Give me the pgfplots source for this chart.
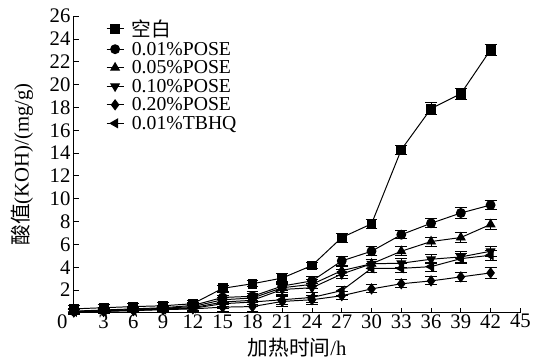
\documentclass[border=0pt]{standalone}
\usepackage{pgfplots}
\usepackage{pgfplotstable}
\pgfplotsset{compat=1.18}
\usepackage{fontspec}
\setmainfont{Liberation Serif}
\newfontfamily\cjk{Noto Sans CJK SC}
\pgfplotstableread{
x   a    ea   b    eb   c    ec   d    ed   f    ef   g    eg
0   0.35 0.3  0.15 0.2  0.12 0.2  0.10 0.2  0.08 0.2  0.10 0.2
3   0.45 0.3  0.25 0.2  0.20 0.2  0.18 0.2  0.12 0.2  0.15 0.2
6   0.55 0.3  0.35 0.2  0.30 0.2  0.25 0.2  0.20 0.2  0.22 0.2
9   0.62 0.3  0.45 0.2  0.40 0.2  0.35 0.2  0.28 0.2  0.30 0.2
12  0.80 0.3  0.65 0.3  0.55 0.3  0.45 0.3  0.35 0.3  0.40 0.3
15  2.15 0.25 1.35 0.4  1.15 0.4  0.95 0.4  0.50 0.4  0.80 0.4
18  2.55 0.25 1.45 0.4  1.30 0.4  1.10 0.4  0.55 0.4  0.95 0.4
21  3.05 0.4  2.35 0.4  2.20 0.4  2.05 0.4  1.00 0.4  1.15 0.4
24  4.15 0.3  2.80 0.4  2.50 0.4  2.20 0.4  1.15 0.4  1.35 0.4
27  6.60 0.4  4.55 0.4  3.70 0.4  3.40 0.4  1.50 0.35 1.95 0.4
30  7.80 0.4  5.40 0.4  4.30 0.4  4.30 0.4  2.10 0.35 3.90 0.4
33  14.30 0.4 6.85 0.35 5.40 0.4  4.35 0.4  2.55 0.35 3.90 0.4
36  17.90 0.5 7.85 0.4  6.25 0.4  4.70 0.4  2.80 0.35 4.05 0.4
39  19.20 0.5 8.75 0.45 6.60 0.45 4.90 0.45 3.15 0.4  4.75 0.45
42  23.05 0.45 9.45 0.4 7.75 0.45 5.40 0.45 3.50 0.45 5.05 0.45
}\data
\begin{document}
\begin{tikzpicture}
\begin{axis}[
  scale only axis,
  width=453pt, height=301pt,
  xmin=0, xmax=45, ymin=0, ymax=26,
  xtick={0,3,...,45}, ytick={2,4,...,26},
  xticklabel={\ifdim\tick pt=0pt\llap{0\kern6.5pt}\else\pgfmathprintnumber{\tick}\fi},
  axis lines=left,
  axis line style={-, line width=0.9pt},
  tick align=inside,
  major tick length=5pt,
  tick style={line width=0.9pt, black},
  clip=false,
  font=\fontsize{21}{24}\selectfont,
  /pgf/number format/assume math mode=true,
  xticklabel style={yshift=2pt},
  xlabel={{\cjk 加热时间}/h},
  ylabel={{\cjk 酸值}(KOH)/(mg/g)},
  xlabel style={yshift=-3pt},
  ylabel style={yshift=10pt},
  legend style={at={(0.072,0.995)}, anchor=north west, draw=none, fill=none,
    font=\fontsize{20}{21}\selectfont, row sep=0pt, inner sep=0pt},
  legend cell align=left,
  every axis plot/.append style={black, line width=1pt, mark options={solid, black}},
  error bars/y dir=both, error bars/y explicit,
  error bars/error bar style={line width=0.9pt, black, solid},
  error bars/error mark options={rotate=90, mark size=6pt, line width=0.9pt, black},
]
\addplot[black, mark=square*, mark size=4.5pt] table[x=x, y=a, y error=ea]{\data};
\addlegendentry{\hspace*{6pt}{\cjk 空白}}
\addplot[black, mark=*, mark size=4.5pt] table[x=x, y=b, y error=eb]{\data};
\addlegendentry{\hspace*{6pt}0.01\%POSE}
\addplot[black, mark=triangle*, mark size=5pt] table[x=x, y=c, y error=ec]{\data};
\addlegendentry{\hspace*{6pt}0.05\%POSE}
\addplot[black, mark=triangle*, mark size=5pt, mark options={rotate=180}] table[x=x, y=d, y error=ed]{\data};
\addlegendentry{\hspace*{6pt}0.10\%POSE}
\addplot[black, mark=diamond*, mark size=5pt] table[x=x, y=f, y error=ef]{\data};
\addlegendentry{\hspace*{6pt}0.20\%POSE}
\addplot[black, mark=triangle*, mark size=5pt, mark options={rotate=90}] table[x=x, y=g, y error=eg]{\data};
\addlegendentry{\hspace*{6pt}0.01\%TBHQ}
\end{axis}
\path (current bounding box.west) ++(-8pt,0);
\path (current bounding box.north) ++(0,6pt);
\path (current bounding box.south) ++(0,-3pt);
\end{tikzpicture}
\end{document}
